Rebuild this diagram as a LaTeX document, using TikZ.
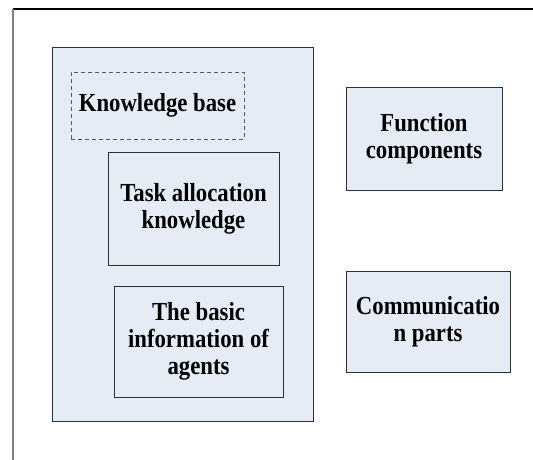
\documentclass[tikz,border=0pt]{standalone}
\usepackage{fontspec}
\setmainfont{Liberation Serif}[FakeStretch=0.875]
\definecolor{boxfill}{HTML}{E6ECF6}
\definecolor{boxline}{HTML}{303030}
\begin{document}
\begin{tikzpicture}[x=1pt,y=-1pt,
  box/.style={draw=boxline,line width=1pt,fill=boxfill,inner sep=0pt,outer sep=0pt,
    align=center,font=\fontsize{26}{27}\selectfont\bfseries},
  kb/.style={box,draw=boxline!80,dash pattern=on 4pt off 3pt}]
\clip (0,0) rectangle (533,459);
\fill[white] (0,0) rectangle (533,459);
% frame
\draw[black,line width=1.5pt] (12.5,9) -- (540,9);
\draw[gray,line width=1.5pt] (13,8.5) -- (13,470);
% outer container
\node[box,minimum width=261pt,minimum height=374pt] (kbase) at (182.5,234) {};
\node[kb,minimum width=173pt,minimum height=67pt] (know) at (157.5,105.5) {Knowledge base};
\node[box,minimum width=171pt,minimum height=113pt] (task) at (193.5,208.5) {Task allocation\\knowledge};
\node[box,minimum width=169pt,minimum height=111pt] (basic) at (198.5,341.5) {The basic\\information of\\agents};
\node[box,minimum width=156pt,minimum height=103pt] (func) at (424,138.5) {Function\\components};
\node[box,minimum width=164pt,minimum height=101pt] (comm) at (428,321.5) {Communicatio\\n parts};
\end{tikzpicture}
\end{document}
